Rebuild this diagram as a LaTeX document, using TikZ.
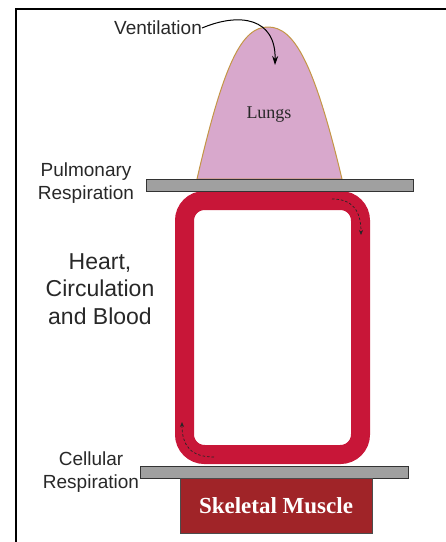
\documentclass[tikz,border=0pt]{standalone}
\usepackage{fontspec}
\setmainfont{Liberation Serif}
\newfontfamily\labfont{Liberation Sans}
\usetikzlibrary{arrows.meta}
\definecolor{lungfill}{RGB}{216,168,204}
\definecolor{lungedge}{RGB}{196,150,70}
\definecolor{loopred}{RGB}{200,22,56}
\definecolor{musclered}{RGB}{160,36,40}
\definecolor{bargray}{RGB}{160,160,160}
\definecolor{labgray}{RGB}{40,40,40}
\tikzset{
  lab/.style={font=\labfont\fontsize{19}{23}\selectfont, text=labgray, align=center, inner sep=0pt},
  biglab/.style={font=\labfont\fontsize{23}{27.5}\selectfont, text=labgray, align=center, inner sep=0pt},
  bar/.style={draw=black!80, fill=bargray, line width=1pt},
  flowarrow/.style={draw=black!85, dashed, dash pattern=on 2.5pt off 2pt, line width=0.7pt, -{Stealth[length=5pt,width=4pt]}},
}
\begin{document}
\begin{tikzpicture}[x=1pt,y=-1pt]
\useasboundingbox (0,0) rectangle (446,542);
% frame
\draw[line width=2pt, black] (446,9) -- (16,9) -- (16,542);
% blood loop
\draw[loopred, line width=19pt, rounded corners=20pt] (184.5,200.5) rectangle (360.5,454.5);
% lungs
\filldraw[fill=lungfill, draw=lungedge, line width=1pt]
  (197,179) .. controls (224,62) and (242,27) .. (268,27)
  .. controls (294,27) and (314,62) .. (342,179) -- cycle;
\node[font=\fontsize{18}{20}\selectfont, text=labgray, inner sep=0pt] (lungs) at (269,115) {Lungs};
% bars
\path[bar] (146,179) rectangle (413,191);
\node[inner sep=0pt] (pulbar) at (279.5,185) {};
\path[bar] (140,466) rectangle (408,478);
\node[inner sep=0pt] (celbar) at (274,472) {};
% skeletal muscle
\node[draw=black!70, fill=musclered, line width=1pt, minimum width=192pt, minimum height=55pt, inner sep=0pt,
      text=white, font=\bfseries\fontsize{23}{26}\selectfont] (muscle) at (276,505.5) {Skeletal Muscle};
% labels
\node[lab] (vent) at (158,28) {Ventilation};
\node[lab] (pulm) at (86,183.5) {Pulmonary\\Respiration};
\node[lab] (cell) at (91,472.5) {Cellular\\Respiration};
\node[biglab] (heart) at (100,289) {Heart,\\Circulation\\and Blood};
% ventilation arrow
\coordinate (ventend) at (275,65);
\draw[black, line width=1pt, -{Stealth[length=9pt,width=6pt]}]
  (vent.east) .. controls (240,12) and (276,18) .. (ventend);
% flow arrows in blood loop
\coordinate (fa1) at (332,199);
\coordinate (fa2) at (361,235);
\draw[flowarrow] (fa1) .. controls (352,199) and (361,210) .. (fa2);
\coordinate (fb1) at (214,457);
\coordinate (fb2) at (182,422);
\draw[flowarrow] (fb1) .. controls (191,457) and (182,446) .. (fb2);
\end{tikzpicture}
\end{document}
